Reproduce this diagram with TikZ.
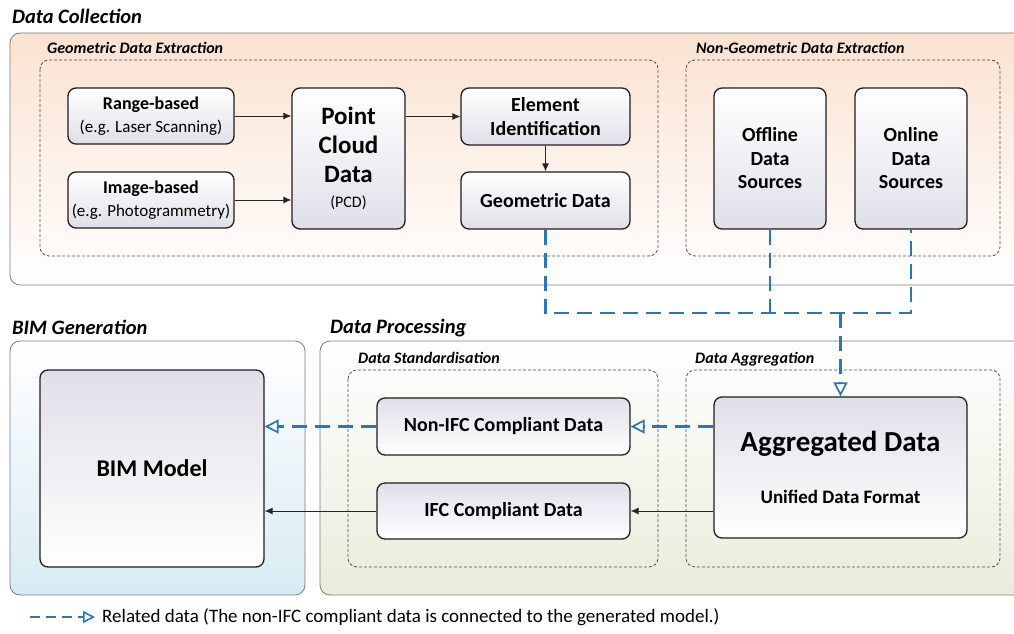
\documentclass[tikz,border=0pt]{standalone}
\usepackage{fontspec}
\setmainfont{Carlito}
\usetikzlibrary{arrows.meta}
\definecolor{peach}{RGB}{250,226,209}
\definecolor{skyb}{RGB}{216,235,243}
\definecolor{sage}{RGB}{232,237,219}
\definecolor{lav}{RGB}{224,223,233}
\definecolor{relblue}{RGB}{46,117,182}
\definecolor{framegray}{RGB}{125,125,125}
\definecolor{dgray}{RGB}{80,80,80}
\definecolor{boxline}{RGB}{30,30,30}
\tikzset{
  box/.style={draw=boxline, line width=1.3pt, rounded corners=8pt, align=center, inner sep=0pt,
    font=\bfseries\fontsize{20}{24}\selectfont},
  topbox/.style={box, top color=white, bottom color=lav},
  botbox/.style={box, top color=lav, bottom color=white},
  grp/.style={draw=framegray, line width=0.8pt, rounded corners=10pt},
  dbox/.style={draw=dgray, dash pattern=on 3pt off 2pt, line width=0.8pt, rounded corners=9pt},
  title/.style={anchor=base west, inner sep=0pt, font=\bfseries\itshape\fontsize{20.5}{24}\selectfont},
  sublabel/.style={anchor=base west, inner sep=0pt, font=\bfseries\itshape\fontsize{16}{19}\selectfont},
  arr/.style={-{Latex[length=8pt,width=7pt]}, line width=0.9pt, draw=black!85},
  rel/.style={draw=relblue, line width=2.4pt, dash pattern=on 15pt off 8pt},
  relarr/.style={rel, -{Triangle[open, length=14pt, width=14pt, line width=1.7pt]}},
  legarr/.style={draw=relblue, line width=2pt, dash pattern=on 10pt off 6pt,
    -{Triangle[open, length=12pt, width=12pt, line width=1.6pt]}},
}
\begin{document}
\begin{tikzpicture}[x=1pt,y=-1pt]
\useasboundingbox (0,0) rectangle (1014,634);
\clip (0,0) rectangle (1014,634);
\fill[white] (0,0) rectangle (1014,634);

% ---------- containers ----------
\path[grp, top color=peach, bottom color=white] (10,33) rectangle (1040,285);
\path[grp, top color=white, bottom color=skyb] (10,341) rectangle (305,595);
\path[grp, top color=white, bottom color=sage] (320,341) rectangle (1040,595);

\draw[dbox] (40,60) rectangle (658,256);
\draw[dbox] (686,60) rectangle (1000,256);
\draw[dbox] (348,370) rectangle (658,567);
\draw[dbox] (686,370) rectangle (1000,567);

\node[title] (tdc) at (12,24) {Data Collection};
\node[title] (tbim) at (12,334) {BIM Generation};
\node[title] (tdp) at (330,333) {Data Processing};
\node[sublabel] (tgeo) at (47,53) {Geometric Data Extraction};
\node[sublabel] (tngeo) at (696,53) {Non-Geometric Data Extraction};
\node[sublabel] (tstd) at (358,363) {Data Standardisation};
\node[sublabel] (tagg) at (695,363) {Data Aggregation};

% ---------- boxes ----------
\node[topbox, minimum width=166pt, minimum height=56pt, font=\bfseries\fontsize{18}{23}\selectfont] (rb) at (151,116)
  {Range-based\\{\mdseries\fontsize{17}{23}\selectfont (e.g. Laser Scanning)}};
\node[topbox, minimum width=166pt, minimum height=56pt, font=\bfseries\fontsize{18}{23}\selectfont] (ib) at (151,200)
  {Image-based\\{\mdseries\fontsize{17}{23}\selectfont (e.g. Photogrammetry)}};
\node[topbox, minimum width=113pt, minimum height=141pt, font=\bfseries\fontsize{25}{29}\selectfont] (pcd) at (348.5,158.5)
  {Point\\Cloud\\Data\\[-4pt]{\mdseries\fontsize{16}{24}\selectfont (PCD)}};
\node[topbox, minimum width=169pt, minimum height=57pt] (ei) at (545.5,116.5) {Element\\Identification};
\node[topbox, minimum width=169pt, minimum height=57pt] (gd) at (545.5,200.5) {Geometric Data};
\node[topbox, minimum width=112pt, minimum height=141pt, font=\bfseries\fontsize{20}{23.5}\selectfont] (off) at (770,158.5) {Offline\\Data\\Sources};
\node[topbox, minimum width=112pt, minimum height=141pt, font=\bfseries\fontsize{20}{23.5}\selectfont] (on) at (911,158.5) {Online\\Data\\Sources};

\node[botbox, minimum width=224pt, minimum height=197pt, font=\bfseries\fontsize{24}{28}\selectfont] (bim) at (152,468.5) {BIM Model};
\node[botbox, minimum width=253pt, minimum height=57pt] (nifc) at (503.5,426.5) {Non-IFC Compliant Data};
\node[botbox, minimum width=253pt, minimum height=56pt] (ifc) at (503.5,511) {IFC Compliant Data};
\node[botbox, minimum width=253pt, minimum height=141pt, font=\bfseries\fontsize{29}{34}\selectfont] (agg) at (840.5,467.5)
  {Aggregated Data\\[18pt]{\fontsize{19}{22}\selectfont Unified Data Format}};

% ---------- solid connectors ----------
\draw[arr] (rb.east) -- (rb.east -| pcd.west);
\draw[arr] (ib.east) -- (ib.east -| pcd.west);
\draw[arr] (pcd.east |- ei.west) -- (ei.west);
\draw[arr] (ei.south) -- (gd.north);
\draw[arr] (agg.west |- ifc.east) -- (ifc.east);
\draw[arr] (ifc.west) -- (ifc.west -| bim.east);

% ---------- related data (dashed) ----------
\coordinate (bus) at (840.5,313);
\draw[rel] (gd.south) |- (on.south |- bus) -- (on.south);
\draw[rel] (off.south) -- (off.south |- bus);
\draw[relarr] (bus) -- (agg.north);
\draw[relarr] (agg.west |- nifc.east) -- (nifc.east);
\draw[relarr] (nifc.west) -- (nifc.west -| bim.east);

% ---------- legend ----------
\coordinate (lg) at (30,617);
\node[anchor=west, inner sep=0pt, font=\fontsize{19}{22}\selectfont] (lgt) at (102,617)
  {Related data (The non-IFC compliant data is connected to the generated model.)};
\draw[legarr, shorten >=7pt] (lg) -- (lgt.west);
\end{tikzpicture}
\end{document}
